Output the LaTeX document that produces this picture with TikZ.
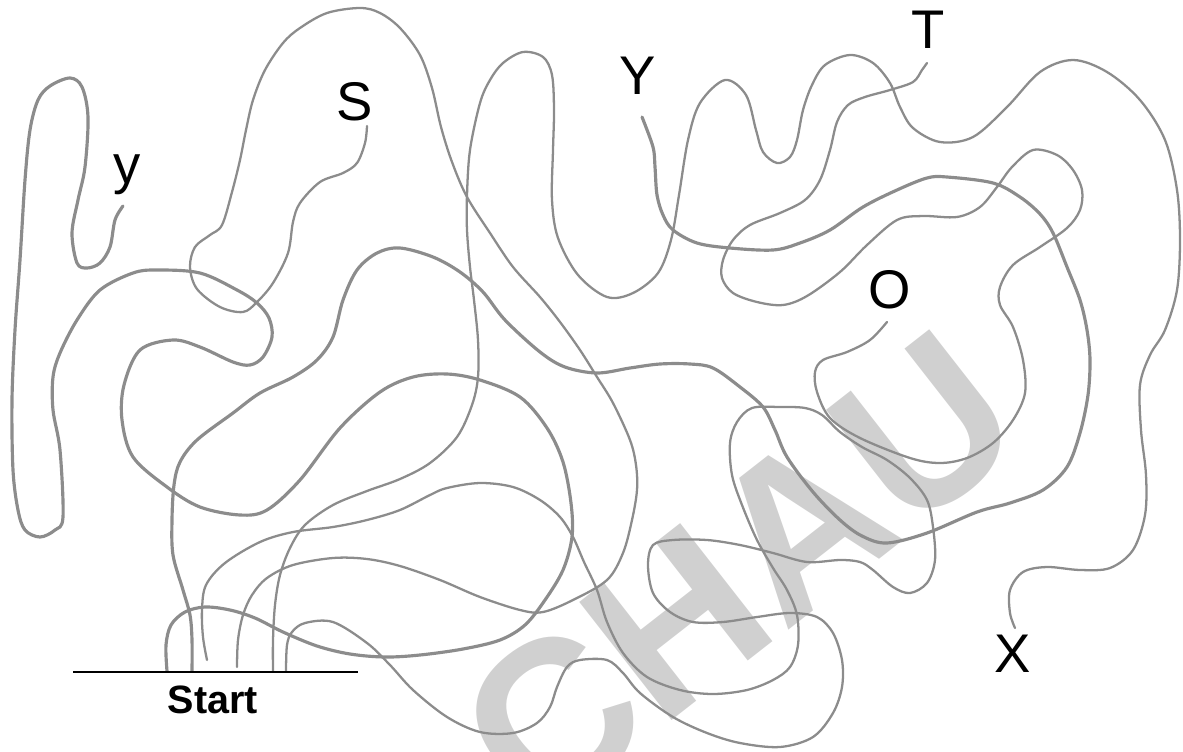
\documentclass[tikz,border=0pt]{standalone}
\usepackage{fontspec}
\setmainfont{Liberation Sans}
\definecolor{curvegray}{RGB}{140,140,140}
\definecolor{wmgray}{RGB}{208,208,208}
\begin{document}
\begin{tikzpicture}[x=0.02cm,y=-0.02cm,
  tangle/.style={draw=curvegray, line width=1.3pt, line cap=round, line join=round},
  tanglethick/.style={tangle, line width=1.8pt},
  lab/.style={anchor=base, inner sep=0pt, font=\fontsize{31}{31}\selectfont},
  wmark/.style={rotate=38, text=wmgray, inner sep=0pt, font=\fontsize{124}{124}\selectfont\bfseries}]
\useasboundingbox (0,0) rectangle (1183,751);
% watermark
\node[wmark] (wm) at (738,574) {CHAU};
% curve from start to y
\draw[tanglethick] plot[smooth, tension=0.55] coordinates {
(167,671) (166,645) (171,625) (185,612) (205,607) (230,610) (255,618) (283,632) (317,646) (350,654) (385,657) (420,655) (463,649) (500,640) (525,625) (545,600) (563,570) (572,537) (571,503) (563,462) (547,428) (520,397) (480,380) (447,374) (413,377) (380,392) (340,428) (300,480) (267,510) (240,515) (200,507) (167,487) (133,457) (122,420) (124,385) (140,350) (173,340) (200,347) (233,362) (250,365) (263,357) (272,337) (269,318) (257,303) (237,290) (200,273) (157,270) (133,273) (100,290) (77,320) (60,353) (53,377) (53,410) (60,450) (63,517) (55,530) (40,537) (25,530) (18,510) (13,470) (12,400) (15,330) (20,260) (25,180) (30,130) (38,100) (50,86) (70,78) (82,87) (88,117) (85,167) (78,200) (72,233) (77,263) (87,268) (100,263) (110,247) (115,220) (123,206)};
% curve from start to S
\draw[tangle] plot[smooth, tension=0.55] coordinates {
(237,667) (238,640) (243,615) (252,595) (267,578) (293,565) (333,558) (367,559) (400,566) (440,580) (480,597) (520,610) (543,612) (573,600) (607,580) (623,553) (632,520) (637,490) (636,465) (630,440) (613,403) (597,377) (580,350) (560,322) (540,297) (513,267) (490,233) (467,197) (452,162) (441,127) (432,88) (420,55) (400,28) (380,13) (360,8) (327,13) (300,28) (283,43) (265,70) (253,100) (246,130) (240,160) (232,192) (222,225) (210,235) (195,247) (190,267) (197,289) (220,307) (243,312) (257,302) (273,283) (288,253) (293,222) (300,203) (320,182) (343,173) (357,163) (365,143) (367,126)};
% curve from start to Y
\draw[tanglethick] plot[smooth, tension=0.55] coordinates {
(192,671) (192,640) (190,615) (183,590) (173,555) (172,520) (174,485) (180,462) (197,440) (233,413) (260,393) (293,377) (317,360) (333,337) (343,300) (357,270) (377,253) (400,248) (433,257) (460,272) (483,292) (505,320) (540,352) (565,367) (597,373) (630,368) (660,364) (690,364) (713,368) (740,387) (763,407) (775,430) (787,457) (813,492) (840,520) (862,536) (887,543) (927,533) (977,512) (1010,503) (1043,490) (1067,467) (1080,433) (1088,395) (1090,360) (1087,330) (1080,300) (1067,267) (1053,233) (1040,214) (1020,197) (993,183) (947,177) (927,178) (897,190) (863,207) (830,230) (800,243) (773,250) (730,248) (697,243) (673,230) (663,215) (657,195) (655,167) (653,147) (642,117)};
% curve from start to X
\draw[tangle] plot[smooth, tension=0.55] coordinates {
(273,671) (273,640) (275,605) (280,575) (290,548) (305,525) (333,505) (367,491) (400,479) (430,463) (457,437) (472,405) (478,377) (478,340) (474,300) (470,267) (467,230) (467,195) (470,150) (480,103) (490,80) (503,63) (523,52) (543,57) (552,75) (554,110) (553,150) (552,200) (558,238) (578,275) (607,297) (633,293) (658,273) (671,240) (679,195) (688,140) (700,103) (725,80) (746,95) (756,130) (763,152) (777,163) (790,157) (797,140) (803,110) (812,85) (825,65) (850,55) (873,63) (890,83) (900,107) (913,128) (940,142) (973,137) (1007,107) (1040,72) (1073,60) (1107,72) (1140,100) (1165,140) (1177,190) (1180,240) (1177,290) (1165,330) (1150,355) (1140,385) (1141,430) (1146,475) (1145,515) (1133,550) (1110,568) (1080,570) (1047,567) (1023,572) (1010,590) (1010,613) (1015,628)};
% closed route from start back to start
\draw[tangle] plot[smooth, tension=0.55] coordinates {
(207,660) (203,637) (202,610) (206,585) (225,563) (260,542) (293,532) (333,527) (367,520) (400,510) (430,495) (447,488) (480,483) (513,487) (540,500) (560,517) (573,537) (584,562) (597,590) (607,622) (623,653) (647,677) (680,690) (713,694) (747,690) (773,680) (790,667) (798,645) (797,615) (787,590) (773,568) (757,540) (742,505) (732,475) (730,443) (737,422) (752,408) (780,407) (805,408) (822,415) (840,432) (862,447) (887,460) (910,478) (927,500) (933,527) (935,560) (927,583) (910,593) (893,587) (873,570) (860,562) (840,560) (807,562) (773,553) (740,545) (707,540) (673,540) (653,545) (648,565) (653,593) (670,612) (693,622) (723,622) (757,617) (790,613) (817,617) (833,633) (842,660) (842,687) (833,713) (813,737) (780,747) (740,743) (707,733) (673,717) (640,693) (623,673) (607,660) (580,660) (567,667) (557,687) (550,707) (537,723) (513,733) (480,732) (447,717) (413,690) (390,665) (367,643) (333,622) (305,623) (292,632) (287,645) (286,671)};
% curve from O to T
\draw[tangle] plot[smooth, tension=0.55] coordinates {
(887,322) (870,340) (847,352) (823,360) (815,372) (817,392) (830,418) (860,438) (910,458) (940,463) (967,458) (993,443) (1013,420) (1025,393) (1023,360) (1013,327) (1000,305) (1000,287) (1013,265) (1040,247) (1067,228) (1080,210) (1082,190) (1073,170) (1057,155) (1033,150) (1012,167) (997,187) (980,207) (957,217) (923,216) (897,220) (867,245) (840,272) (807,296) (783,305) (757,302) (733,293) (722,278) (723,260) (733,240) (750,225) (780,213) (805,200) (820,180) (830,150) (837,122) (848,105) (865,97) (890,90) (913,82) (922,70) (927,63)};
% start line and labels
\coordinate (sl) at (73,672);
\coordinate (sr) at (358,672);
\draw[line width=1.1pt, black] (sl) -- (sr);
\node[anchor=base, inner sep=0pt, font=\fontsize{22.5}{22.5}\selectfont\bfseries] (start) at (213,713) {Start};
\node[lab] (ly) at (127,183) {y};
\node[lab] (lS) at (355,120) {S};
\node[lab] (lY) at (638,94) {Y};
\node[lab] (lT) at (928,48) {T};
\node[lab] (lO) at (890,308) {O};
\node[lab] (lX) at (1013,672) {X};
\end{tikzpicture}
\end{document}
